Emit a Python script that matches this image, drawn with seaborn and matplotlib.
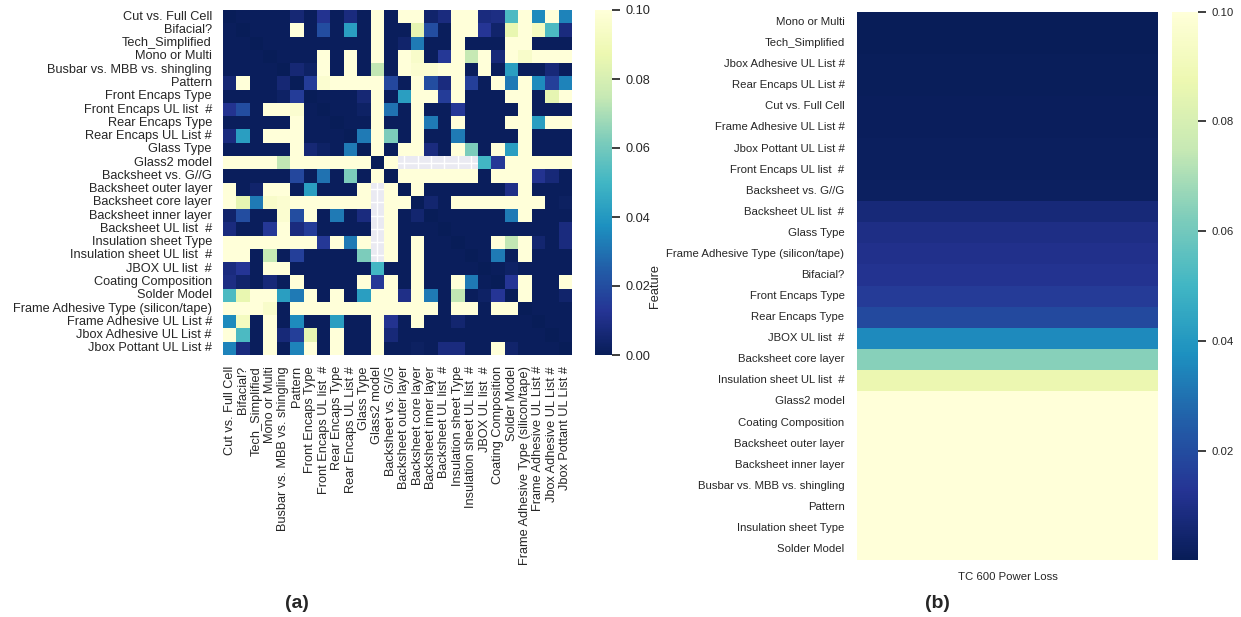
import numpy as np
import pandas as pd
import matplotlib
matplotlib.use("Agg")
import matplotlib.pyplot as plt
import seaborn as sns

sns.set_theme()
plt.rcParams["font.family"] = ["Liberation Sans", "DejaVu Sans"]

# Feature names (row/column order of the pairwise matrix)
features = [
    "Cut vs. Full Cell", "Bifacial?", "Tech_Simplified", "Mono or Multi",
    "Busbar vs. MBB vs. shingling", "Pattern", "Front Encaps Type",
    "Front Encaps UL list  #", "Rear Encaps Type", "Rear Encaps UL List #",
    "Glass Type", "Glass2 model", "Backsheet vs. G//G", "Backsheet outer layer",
    "Backsheet core layer", "Backsheet inner layer", "Backsheet UL list  #",
    "Insulation sheet Type", "Insulation sheet UL list  #", "JBOX UL list  #",
    "Coating Composition", "Solder Model", "Frame Adhesive Type (silicon/tape)",
    "Frame Adhesive UL List #", "Jbox Adhesive UL List #", "Jbox Pottant UL List #",
]

# Pairwise p-values between features (None = not computed)
pairwise_p = [
    [0, .001, .001, .001, .001, .006, .001, .012, .001, .008, .001, .5, .001, .5, .5, .004, .008, .5, .5, .008, .009, .052, .5, .036, .5, .034],
    [.001, 0, .001, .001, .001, .5, .001, .02, .001, .042, .001, .5, .001, .001, .085, .02, .001, .5, .5, .013, .004, .086, .5, .092, .052, .008],
    [.001, .001, 0, .001, .001, .001, .001, .001, .001, .001, .001, .5, .001, .004, .032, .001, .001, .5, .001, .001, .001, .5, .5, .001, .001, .001],
    [.001, .001, .001, 0, .001, .001, .001, .5, .001, .5, .001, .5, .001, .5, .095, .001, .014, .5, .075, .5, .007, .5, .095, .5, .5, .5],
    [.001, .001, .001, .001, 0, .006, .003, .5, .001, .5, .001, .074, .001, .5, .097, .097, .5, .5, .001, .5, .001, .042, .001, .001, .007, .001],
    [.006, .5, .001, .001, .006, 0, .015, .097, .5, .5, .5, .5, .018, .001, .5, .02, .008, .5, .016, .001, .5, .032, .5, .036, .016, .034],
    [.001, .001, .001, .001, .003, .015, 0, .001, .001, .001, .006, .5, .001, .042, .5, .5, .015, .5, .001, .001, .001, .5, .5, .001, .085, .5],
    [.012, .02, .001, .5, .5, .097, .001, 0, .001, .001, .003, .5, .03, .001, .5, .001, .001, .014, .001, .001, .001, .001, .5, .001, .001, .001],
    [.001, .001, .001, .001, .001, .5, .001, .001, 0, .001, .001, .5, .001, .001, .5, .032, .001, .5, .001, .001, .001, .5, .5, .042, .5, .5],
    [.008, .042, .001, .5, .5, .5, .001, .001, .001, 0, .032, .5, .062, .001, .5, .001, .001, .032, .001, .001, .001, .001, .5, .001, .001, .001],
    [.001, .001, .001, .001, .001, .5, .006, .003, .001, .032, 0, .5, .001, .5, .5, .008, .001, .5, .062, .001, .5, .042, .5, .001, .001, .001],
    [.5, .5, .5, .5, .074, .5, .5, .5, .5, .5, .5, 0, .5, None, None, None, None, None, None, .05, .014, .5, .5, .5, .5, .5],
    [.001, .001, .001, .001, .001, .018, .001, .03, .001, .062, .001, .5, 0, .5, .5, .5, .5, .5, .5, .001, .5, .5, .5, .012, .007, .001],
    [.5, .001, .004, .5, .5, .001, .042, .001, .001, .001, .5, None, .5, 0, .5, .001, .001, .001, .001, .001, .001, .01, .5, .001, .001, .001],
    [.5, .085, .032, .095, .097, .5, .5, .5, .5, .5, .5, None, .5, .5, 0, .005, .001, .5, .5, .5, .5, .5, .5, .5, .001, .002],
    [.004, .02, .001, .001, .097, .02, .5, .001, .032, .001, .008, None, .5, .001, .005, 0, .001, .001, .001, .001, .001, .032, .5, .001, .001, .001],
    [.008, .001, .001, .014, .5, .008, .015, .001, .001, .001, .001, None, .5, .001, .001, .001, 0, .001, .001, .001, .001, .001, .001, .001, .001, .008],
    [.5, .5, .5, .5, .5, .5, .5, .014, .5, .032, .5, None, .5, .001, .5, .001, .001, 0, .001, .001, .5, .074, .5, .005, .001, .008],
    [.5, .5, .001, .075, .001, .016, .001, .001, .001, .001, .062, None, .5, .001, .5, .001, .001, .001, 0, .001, .032, .001, .5, .001, .001, .001],
    [.008, .013, .001, .5, .5, .001, .001, .001, .001, .001, .001, .05, .001, .001, .5, .001, .001, .001, .001, 0, .001, .003, .001, .001, .001, .001],
    [.009, .004, .001, .007, .001, .5, .001, .001, .001, .001, .5, .014, .5, .001, .5, .001, .001, .5, .032, .001, 0, .013, .5, .001, .001, .5],
    [.052, .086, .5, .5, .042, .032, .5, .001, .5, .001, .042, .5, .5, .01, .5, .032, .001, .074, .001, .003, .013, 0, .5, .001, .001, .004],
    [.5, .5, .5, .095, .001, .5, .5, .5, .5, .5, .5, .5, .5, .5, .5, .5, .001, .5, .5, .001, .5, .5, 0, .001, .001, .001],
    [.036, .092, .001, .5, .001, .036, .001, .001, .042, .001, .001, .5, .012, .001, .5, .001, .001, .005, .001, .001, .001, .001, .001, 0, .001, .001],
    [.5, .052, .001, .5, .007, .016, .085, .001, .5, .001, .001, .5, .007, .001, .001, .001, .001, .001, .001, .001, .001, .001, .001, .001, 0, .001],
    [.034, .008, .001, .5, .001, .034, .5, .001, .5, .001, .001, .5, .001, .001, .002, .001, .008, .008, .001, .001, .5, .004, .001, .001, .001, 0],
]

# Feature vs. TC 600 power loss p-values, sorted ascending
features_tc600 = [
    "Mono or Multi", "Tech_Simplified", "Jbox Adhesive UL List #",
    "Rear Encaps UL List #", "Cut vs. Full Cell", "Frame Adhesive UL List #",
    "Jbox Pottant UL List #", "Front Encaps UL list  #", "Backsheet vs. G//G",
    "Backsheet UL list  #", "Glass Type", "Frame Adhesive Type (silicon/tape)",
    "Bifacial?", "Front Encaps Type", "Rear Encaps Type", "JBOX UL list  #",
    "Backsheet core layer", "Insulation sheet UL list  #", "Glass2 model",
    "Coating Composition", "Backsheet outer layer", "Backsheet inner layer",
    "Busbar vs. MBB vs. shingling", "Pattern", "Insulation sheet Type",
    "Solder Model",
]
tc600_p = [
    0.0003, 0.0005, 0.0007, 0.0009, 0.0011, 0.0013, 0.0015, 0.0017, 0.0020,
    0.0070, 0.0100, 0.0110, 0.0120, 0.0150, 0.0190, 0.0360, 0.0640, 0.0870,
    0.13, 0.2, 0.3, 0.4, 0.5, 0.6, 0.7, 0.8,
]
target_name = "TC 600 Power Loss"

W, H = 1241, 617
fig = plt.figure(figsize=(W / 100, H / 100), dpi=100)


def box(x0, y0, x1, y1):
    return [x0 / W, 1 - y1 / H, (x1 - x0) / W, (y1 - y0) / H]


fs = 9.2

# (a) pairwise matrix
ax_a = fig.add_axes(box(223, 10, 572, 355))
cax_a = fig.add_axes(box(595, 10, 612, 355))
mat = pd.DataFrame(np.array(pairwise_p, dtype=float), index=features, columns=features)
sns.heatmap(mat, ax=ax_a, cbar_ax=cax_a, cmap="YlGnBu_r", vmin=0, vmax=0.1,
            xticklabels=True, yticklabels=True)
ax_a.tick_params(axis="both", labelsize=fs, pad=2)
ax_a.set_xticklabels(features, rotation=90)
ax_a.set_yticklabels(features, rotation=0)
cax_a.tick_params(labelsize=fs)

# (b) feature vs. target
ax_b = fig.add_axes(box(857, 11.5, 1158, 559.6))
cax_b = fig.add_axes(box(1172, 11.5, 1198, 559.6))
tc = pd.DataFrame({target_name: tc600_p}, index=pd.Index(features_tc600, name="Feature"))
sns.heatmap(tc, ax=ax_b, cbar_ax=cax_b, cmap="YlGnBu_r", vmax=0.1,
            yticklabels=True)
ax_b.tick_params(axis="both", labelsize=8.2, pad=3)
ax_b.set_yticklabels(features_tc600, rotation=0)
ax_b.set_ylabel("Feature", fontsize=fs)
cax_b.tick_params(labelsize=8.2)

fig.text(297 / W, 1 - 604 / H, "(a)", fontsize=14, fontweight="bold", ha="center", va="center")
fig.text(937 / W, 1 - 604 / H, "(b)", fontsize=14, fontweight="bold", ha="center", va="center")

fig.savefig("out.png", dpi=100)
